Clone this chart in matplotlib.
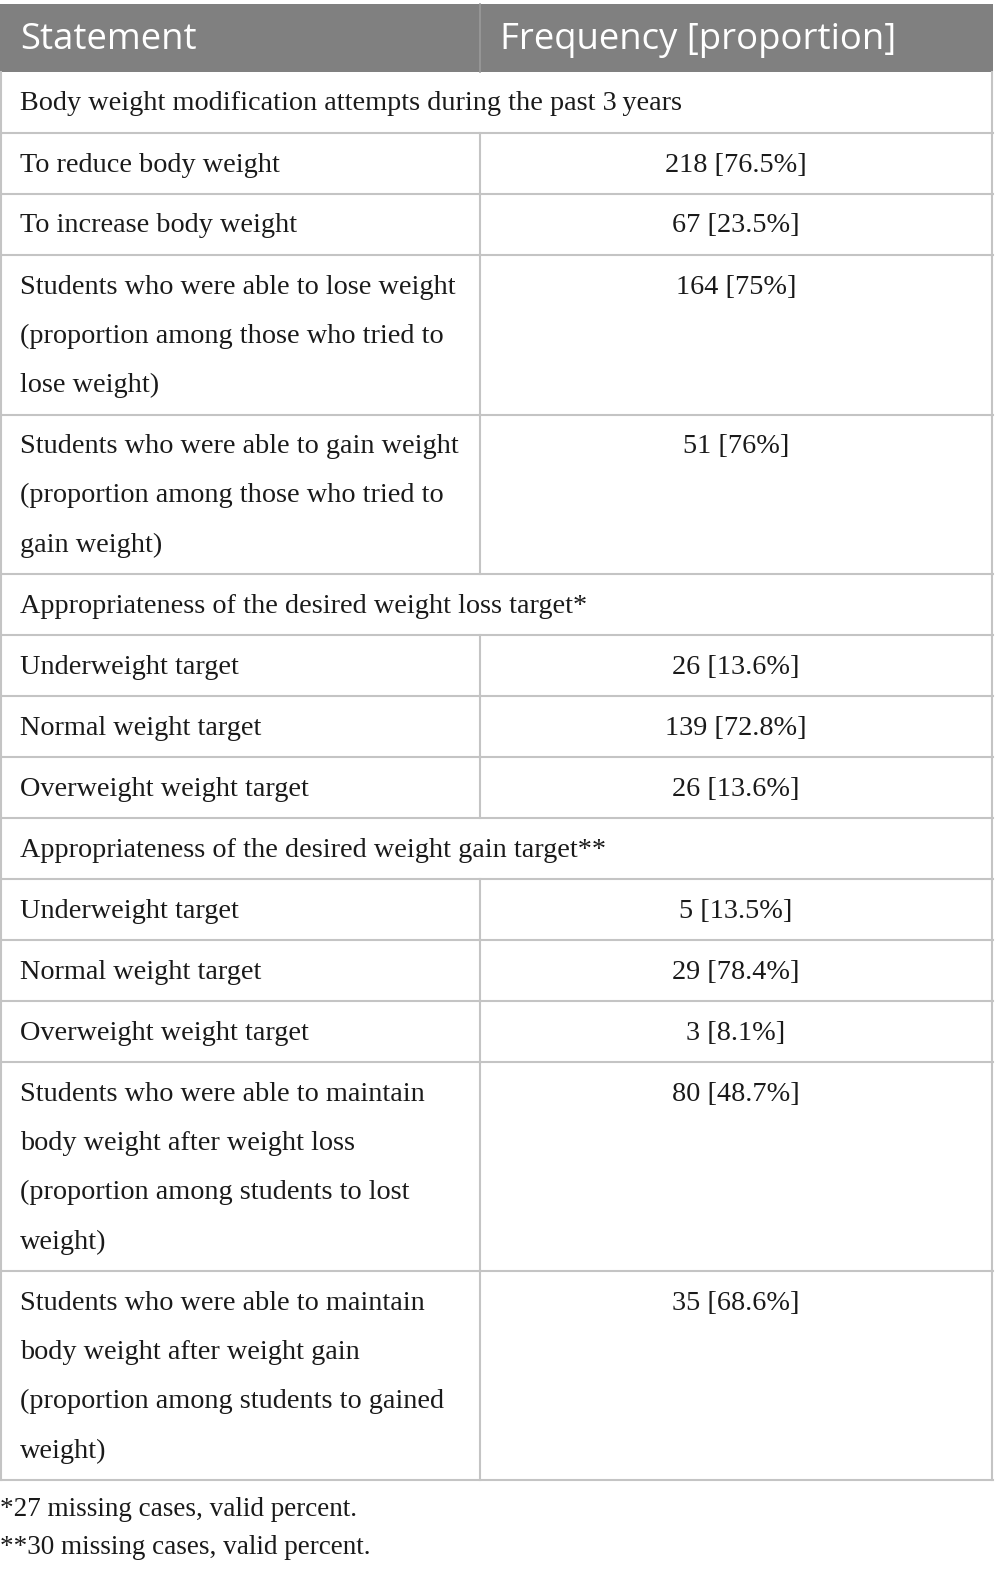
import matplotlib.pyplot as plt
from matplotlib.patches import Rectangle

# table content
headers = ['Statement', 'Frequency [proportion]']
statements = [
    'Body weight modification attempts during the past 3\u2009years',
    'To reduce body weight',
    'To increase body weight',
    'Students who were able to lose weight\n(proportion among those who tried to\nlose weight)',
    'Students who were able to gain weight\n(proportion among those who tried to\ngain weight)',
    'Appropriateness of the desired weight loss target*',
    'Underweight target',
    'Normal weight target',
    'Overweight weight target',
    'Appropriateness of the desired weight gain target**',
    'Underweight target',
    'Normal weight target',
    'Overweight weight target',
    'Students who were able to maintain\nbody weight after weight loss\n(proportion among students to lost\nweight)',
    'Students who were able to maintain\nbody weight after weight gain\n(proportion among students to gained\nweight)',
]
frequencies = [None, '218 [76.5%]', '67 [23.5%]', '164 [75%]', '51 [76%]', None,
               '26 [13.6%]', '139 [72.8%]', '26 [13.6%]', None,
               '5 [13.5%]', '29 [78.4%]', '3 [8.1%]', '80 [48.7%]', '35 [68.6%]']
footnotes = ['*27 missing cases, valid percent.', '**30 missing cases, valid percent.']

W, H = 1005, 1587
fig = plt.figure(figsize=(W / 100, H / 100), dpi=100)
ax = fig.add_axes([0, 0, 1, 1])
ax.set_xlim(0, W)
ax.set_ylim(H, 0)
ax.axis('off')

left, right, split = 1, 992, 480
line_col = '#c4c4c4'
serif = 'Liberation Serif'
body_size = 20.3
line_h = 49.3

# header
top, head_bot = 4, 72
ax.add_patch(Rectangle((0, top), right + 1, head_bot - top, color='#808080', lw=0))
ax.plot([split, split], [top, head_bot], color='#9a9a9a', lw=1.2)
ax.text(20, 40, headers[0], color='white', fontsize=26.3, family='Open Sans', va='center')
ax.text(500, 40, headers[1], color='white', fontsize=26.3, family='Open Sans', va='center')

y = head_bot
for stmt, freq in zip(statements, frequencies):
    n = stmt.count('\n') + 1
    h = 61 + (n - 1) * line_h
    for i, line in enumerate(stmt.split('\n')):
        ax.text(20, y + 32 + i * line_h, line, fontsize=body_size, family=serif,
                va='center', color='#1a1a1a')
    if freq is not None:
        ax.text(736, y + 32, freq, fontsize=body_size, family=serif, va='center',
                ha='center', color='#1a1a1a')
        ax.plot([split, split], [y, y + h], color=line_col, lw=1.5)
    ax.plot([left, left], [y, y + h], color=line_col, lw=1.5)
    ax.plot([right, right], [y, y + h], color=line_col, lw=1.5)
    y += h
    ax.plot([0, right + 1], [y, y], color=line_col, lw=1.5)

for i, note in enumerate(footnotes):
    ax.text(0, y + 30 + i * 37, note, fontsize=19.5, family=serif, va='center',
            color='#1a1a1a')

plt.savefig('out.png', dpi=100)
